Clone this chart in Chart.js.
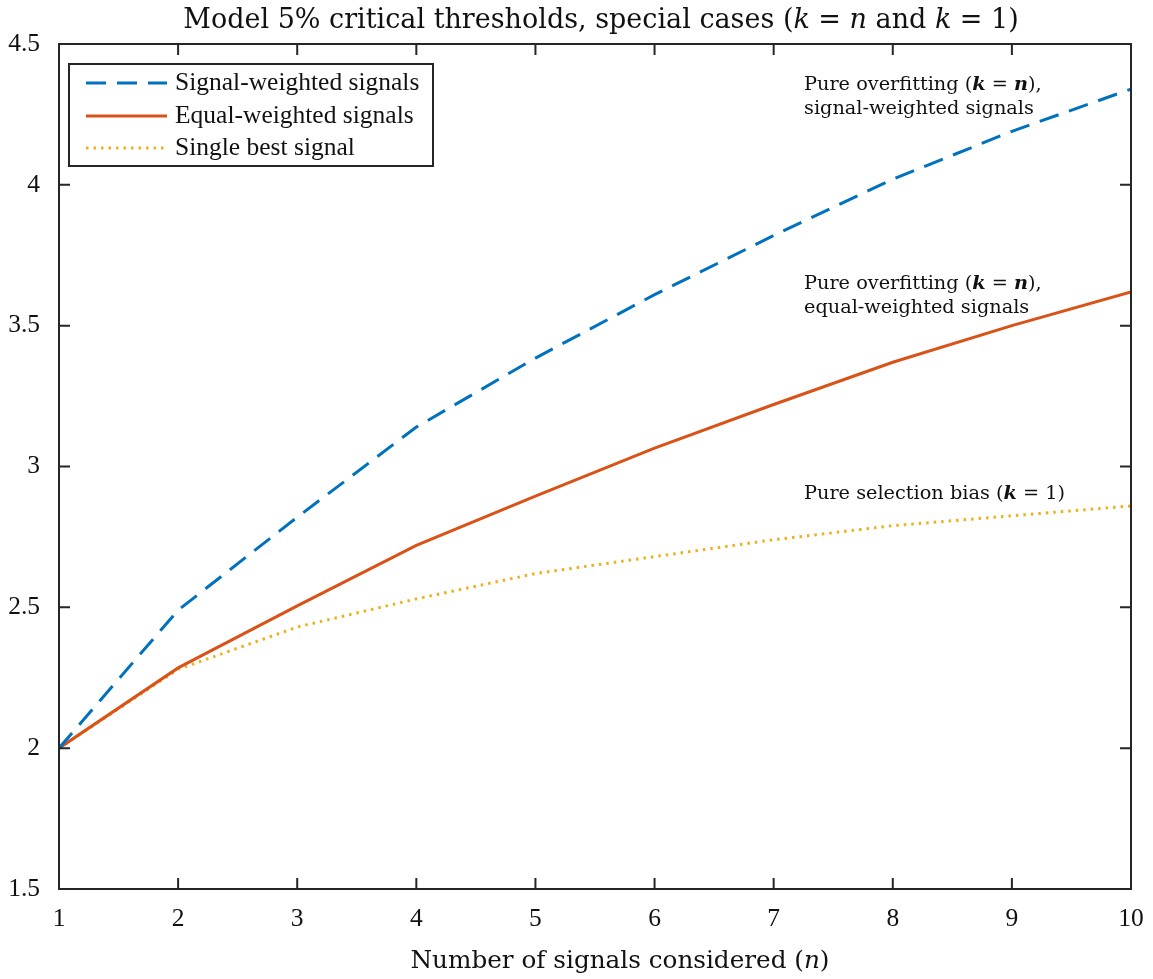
<!DOCTYPE html>
<html>
<head>
<meta charset="utf-8">
<script src="https://cdn.jsdelivr.net/npm/chart.js@4"></script>
<style>
  html,body{margin:0;padding:0;background:#fff;}
  #wrap{width:1153px;height:979px;}
</style>
</head>
<body>
<div id="wrap"><canvas id="chart"></canvas></div>
<script>
// data
const nVals=[1,2,3,4,5,6,7,8,9,10];
const signalWeighted=[2.0,2.49,2.82,3.14,3.385,3.61,3.82,4.02,4.19,4.34];
const equalWeighted=[2.0,2.285,2.505,2.72,2.895,3.065,3.22,3.37,3.50,3.62];
const singleBest=[2.0,2.28,2.43,2.53,2.62,2.68,2.74,2.79,2.825,2.86];
const xTicks=[1,2,3,4,5,6,7,8,9,10];
const yTicks=[1.5,2,2.5,3,3.5,4,4.5];

const AX="#262626";
const SERIF="'Liberation Serif', serif";
const CM="'DejaVu Serif', serif";

function pts(ys){ return nVals.map((x,i)=>({x:x,y:ys[i]})); }

// draw text made of pieces, some italic/bold
function drawRich(ctx,parts,x,y,size,align,fam){
  fam=fam||CM;
  let total=0;
  parts.forEach(p=>{
    ctx.font=(p.st||"")+" "+size+"px "+fam;
    p.w=ctx.measureText(p.t).width;
    total+=p.w;
  });
  let cx = align==="center" ? x-total/2 : x;
  ctx.textAlign="left";
  parts.forEach(p=>{
    ctx.font=(p.st||"")+" "+size+"px "+fam;
    ctx.fillText(p.t,cx,y);
    cx+=p.w;
  });
}

const decor={
  id:"decor",
  afterDatasetsDraw(chart){
    const ctx=chart.ctx, a=chart.chartArea;
    const xs=chart.scales.x, ys=chart.scales.y;
    ctx.save();
    // box
    ctx.strokeStyle=AX;
    ctx.lineWidth=2;
    ctx.strokeRect(a.left,a.top,a.right-a.left,a.bottom-a.top);
    // inward ticks on all sides
    const tl=11;
    ctx.beginPath();
    xTicks.forEach(v=>{
      const px=xs.getPixelForValue(v);
      ctx.moveTo(px,a.bottom); ctx.lineTo(px,a.bottom-tl);
      ctx.moveTo(px,a.top); ctx.lineTo(px,a.top+tl);
    });
    yTicks.forEach(v=>{
      const py=ys.getPixelForValue(v);
      ctx.moveTo(a.left,py); ctx.lineTo(a.left+tl,py);
      ctx.moveTo(a.right,py); ctx.lineTo(a.right-tl,py);
    });
    ctx.lineWidth=2;
    ctx.stroke();

    ctx.fillStyle="#111";
    ctx.textBaseline="middle";
    // title
    drawRich(ctx,[
      {t:"Model 5% critical thresholds, special cases ("},
      {t:"k",st:"italic"},{t:" = "},{t:"n",st:"italic"},
      {t:" and "},{t:"k",st:"italic"},{t:" = 1)"}
    ],601,21,27,"center");
    // x axis title
    drawRich(ctx,[
      {t:"Number of signals considered ("},{t:"n",st:"italic"},{t:")"}
    ],620,962,24.7,"center");

    // annotations
    const ax=804, fs=19.3;
    drawRich(ctx,[{t:"Pure overfitting ("},{t:"k",st:"italic bold"},{t:" = "},{t:"n",st:"italic bold"},{t:"),"}],ax,85,fs);
    drawRich(ctx,[{t:"signal-weighted signals"}],ax,109,fs);
    drawRich(ctx,[{t:"Pure overfitting ("},{t:"k",st:"italic bold"},{t:" = "},{t:"n",st:"italic bold"},{t:"),"}],ax,284,fs);
    drawRich(ctx,[{t:"equal-weighted signals"}],ax,308,fs);
    drawRich(ctx,[{t:"Pure selection bias ("},{t:"k",st:"italic bold"},{t:" = 1)"}],ax,494,fs);

    // legend
    const lx=69, ly=64, lw=364, lh=102;
    ctx.fillStyle="#fff";
    ctx.fillRect(lx,ly,lw,lh);
    ctx.strokeStyle=AX;
    ctx.lineWidth=2;
    ctx.strokeRect(lx,ly,lw,lh);
    const rows=[83,116,148];
    chart.data.datasets.forEach((ds,i)=>{
      ctx.beginPath();
      ctx.setLineDash(ds.borderDash||[]);
      ctx.strokeStyle=ds.borderColor;
      ctx.lineWidth=ds.borderWidth;
      ctx.moveTo(86,rows[i]); ctx.lineTo(167,rows[i]);
      ctx.stroke();
      ctx.setLineDash([]);
      ctx.fillStyle="#111";
      drawRich(ctx,[{t:ds.label}],175,rows[i],25.5,null,SERIF);
    });
    ctx.restore();
  }
};

new Chart(document.getElementById("chart"),{
  type:"line",
  data:{datasets:[
    {label:"Signal-weighted signals",data:pts(signalWeighted),borderColor:"#0072BD",borderWidth:3,borderDash:[20,11],pointRadius:0,tension:0},
    {label:"Equal-weighted signals",data:pts(equalWeighted),borderColor:"#D95319",borderWidth:3,pointRadius:0,tension:0},
    {label:"Single best signal",data:pts(singleBest),borderColor:"#EDB120",borderWidth:3,borderDash:[2.5,5],pointRadius:0,tension:0}
  ]},
  options:{
    responsive:true,
    maintainAspectRatio:false,
    animation:false,
    layout:{padding:{top:44,right:22,left:0,bottom:0}},
    plugins:{legend:{display:false},title:{display:false},tooltip:{enabled:false}},
    scales:{
      x:{
        type:"linear",min:1,max:10,
        afterBuildTicks:s=>{s.ticks=xTicks.map(v=>({value:v}));},
        afterFit:s=>{s.height=90;},
        grid:{display:false},border:{display:false},
        ticks:{color:"#111",font:{family:SERIF,size:25.5},padding:7,maxRotation:0}
      },
      y:{
        min:1.5,max:4.5,
        afterBuildTicks:s=>{s.ticks=yTicks.map(v=>({value:v}));},
        afterFit:s=>{s.width=59;},
        grid:{display:false},border:{display:false},
        ticks:{color:"#111",font:{family:SERIF,size:25.5},padding:11,callback:v=>String(v)}
      }
    }
  },
  plugins:[decor]
});
</script>
</body>
</html>
